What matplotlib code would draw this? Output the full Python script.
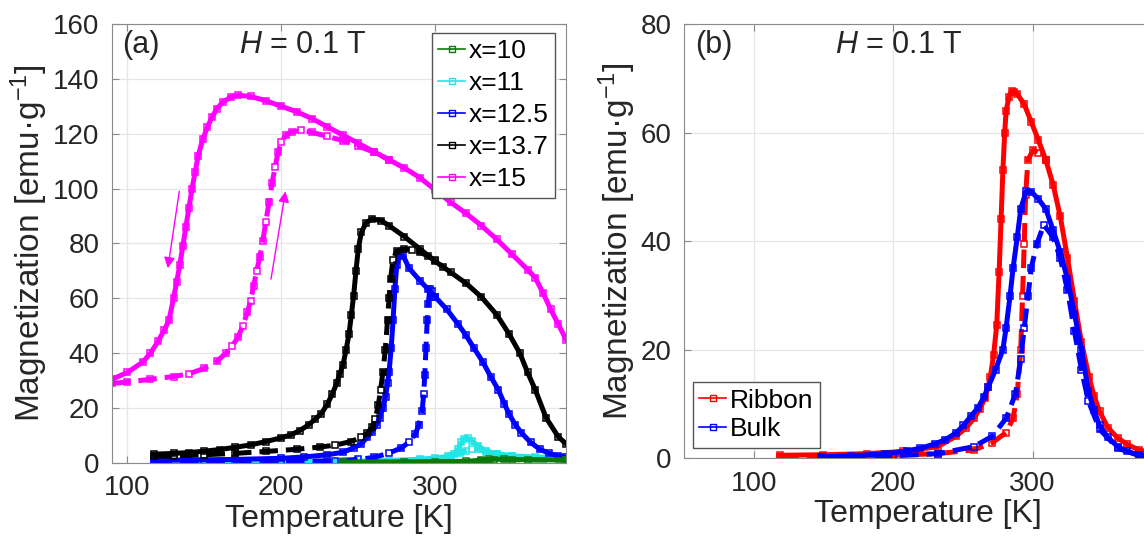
import numpy as np
import matplotlib.pyplot as plt
from matplotlib.lines import Line2D

plt.rcParams['font.family'] = ['Liberation Sans', 'DejaVu Sans']
plt.rcParams['mathtext.fontset'] = 'custom'
plt.rcParams['mathtext.rm'] = 'Liberation Sans'
plt.rcParams['mathtext.it'] = 'Liberation Sans:italic'

# ---------------- panel (a) ----------------
# x=15  (cooling / heating)
t15_c = [90, 100, 110, 115, 120, 124, 127, 130, 132, 134, 136, 138, 140, 142, 144, 146, 149,
         152, 155, 158, 162, 167, 172, 180, 190, 200, 210, 220, 230, 240, 250, 260, 270,
         280, 290, 300, 310, 320, 330, 340, 350, 360, 365, 370, 375, 380, 385]
m15_c = [30.5, 33, 36.8, 40, 44.4, 48.5, 52, 60, 66, 72, 79, 86, 93, 100, 106, 112, 118,
         122.5, 126, 129, 131.5, 133.3, 134, 133.6, 132, 130, 128, 125.5, 122.5, 119.5, 116.5,
         113.5, 110.5, 107.5, 104, 99.5, 95, 91, 86.5, 81.5, 76, 70.5, 67.5, 62, 56, 50.5, 45]
t15_h = [90, 100, 115, 130, 140, 150, 158, 164, 168, 172, 175, 178, 180, 182, 184, 186, 188,
         190, 192, 194, 196, 198, 200, 203, 207, 213, 220, 230, 240, 250, 260, 270]
m15_h = [29, 29.5, 30.5, 31.5, 32.5, 34.5, 37, 40, 42.5, 46, 50, 55, 59, 64.5, 70, 75, 81,
         88, 95, 102, 108, 113.5, 117, 119.5, 120.7, 121.2, 120.5, 119, 117.5, 115.5, 113.3, 110.5]

# x=13.7
t137_c = [117, 130, 140, 150, 160, 170, 180, 190, 200, 206, 212, 218, 222, 226, 230, 233, 236,
          238, 240, 242, 244, 245.5, 247, 248.5, 250, 252, 255, 259, 265, 270, 280, 290, 300,
          310, 320, 330, 340, 348, 355, 360, 365, 372, 380, 385]
m137_c = [3.2, 3.5, 3.8, 4.3, 4.9, 5.7, 6.6, 7.8, 9.2, 10.2, 11.8, 14, 16, 18, 21.5, 25, 29,
          32.5, 35.6, 41, 47, 54, 61, 70, 78, 84, 87.5, 89, 88.3, 86.5, 82.5, 78, 73.5,
          69.5, 65.5, 60.5, 54, 47, 40, 33, 26.7, 16.5, 9.5, 7]
t137_h = [117, 130, 150, 170, 190, 210, 225, 235, 245, 252, 256, 259, 261, 263, 264.5, 266,
          267.5, 269, 270, 271, 272.5, 275, 280, 285, 290, 295, 300, 305]
m137_h = [2.4, 2.6, 3, 3.5, 4.2, 5, 5.8, 6.5, 7.8, 9.3, 11, 13, 16, 21, 26.7, 33,
          41, 52, 60, 67, 74, 77.3, 78, 77.7, 76.8, 75.5, 73.8, 71.5]

# x=12.5
t125_c = [117, 140, 170, 200, 215, 230, 240, 247, 252, 256, 259, 262, 264, 266, 267.7, 269,
          270, 271.4, 272.6, 273.8, 275, 277, 279, 283, 290, 295, 300, 307.5, 315, 320, 325,
          331, 336, 341, 345, 348, 352, 356, 362, 368, 374, 380, 385]
m125_c = [1.0, 1.1, 1.3, 1.7, 2.2, 3, 3.9, 5.5, 7, 9.5, 11.4, 14, 16.5, 20, 24, 29,
          33, 42, 52, 63.5, 72, 75.5, 75.8, 71, 66.5, 63.5, 60.5, 56, 50.5, 46.5, 42,
          36.8, 31.5, 26.7, 21.5, 17.8, 14, 11, 7.5, 5, 3.5, 2.6, 2]
t125_h = [117, 150, 200, 235, 250, 260, 270, 278, 283, 287, 289.5, 291.5, 292.5, 293.2, 294,
          294.8, 295.5, 296.5, 298, 300]
m125_h = [0.4, 0.5, 0.6, 0.8, 1.3, 2, 3.6, 5.5, 7.6, 10.5, 14, 19, 25, 32, 42,
          52, 58, 63.5, 62.5, 60.5]

# x=11
t11_c = [120, 180, 240, 270, 290, 300, 308, 312, 315, 317, 319, 321, 324, 328, 333, 340, 350,
         365, 385]
m11_c = [0.3, 0.4, 0.6, 0.9, 1.4, 1.8, 2.4, 3.2, 5, 7.5, 8.9, 9, 8, 6.2, 4.5, 3.3, 2.6, 2.2, 2]
t11_h = [120, 200, 260, 290, 300, 310, 316, 320, 324, 328, 333, 340, 350]
m11_h = [0.2, 0.3, 0.5, 1, 1.5, 2.5, 3.5, 4.5, 5.2, 5, 4, 3.2, 2.6]

# x=10
t10_c = [240, 280, 320, 330, 335, 345, 360, 385]
m10_c = [0.3, 0.4, 0.6, 1.0, 1.4, 1.3, 1.2, 1.1]
t10_h = [240, 300, 330, 338, 350, 385]
m10_h = [0.2, 0.3, 0.6, 1.2, 1.2, 1.0]

labels_a = ['x=10', 'x=11', 'x=12.5', 'x=13.7', 'x=15']
colors_a = ['#0b7a0b', '#22e6e6', '#0000ff', '#000000', '#ff00ff']

# ---------------- panel (b) ----------------
tr_c = [119, 150, 181, 207, 232, 245, 252, 258, 262, 265.8, 268, 269.7, 272, 274.3, 276, 277.4,
        278.7, 280, 281, 283, 285, 287, 289, 294, 299, 304, 309.5, 314.7, 319.8, 325, 330,
        335, 340.4, 344, 348, 354, 361, 368, 376, 385]
mr_c = [0.5, 0.6, 0.8, 1.2, 2.1, 4, 5.5, 7.3, 9, 11, 13, 15, 18.9, 24.6, 34.3, 44,
        53, 60, 63.9, 66.5, 67.6, 67.5, 67.1, 65.2, 62, 58.7, 54.9, 50.4, 44.6, 36.9, 29,
        21.4, 15, 11.5, 8.6, 5.6, 3.7, 2.5, 1.5, 1.0]
tr_h = [119, 150, 200, 232, 258, 271, 281, 286, 289, 291.5, 292.8, 294, 295, 296.7, 300.5,
        304, 309.5]
mr_h = [0.2, 0.3, 0.5, 0.8, 1.5, 2.8, 4.7, 7.3, 11.8, 20, 29.8, 39.4, 48.5, 55, 56.8,
        56.2, 54.9]

tb_c = [148, 170, 194, 210, 219.5, 230, 237.5, 245, 250.4, 256, 260.7, 265, 268, 273.5, 278.7,
        281, 283.8, 286, 289, 291.5, 295.4, 299, 304, 309.5, 314.7, 319.8, 325, 330, 335,
        340, 344, 348, 354, 361, 368, 376, 385]
mb_c = [0.2, 0.4, 0.8, 1.3, 1.8, 2.6, 3.4, 4.6, 6, 7.8, 9.2, 11.2, 13, 16.3, 20,
        24, 29.8, 35, 40.7, 45.9, 49.2, 49.1, 47.8, 45.9, 42, 38, 33, 26.6, 20,
        12.4, 8.8, 6, 3.8, 2.1, 1.2, 0.5, 0.3]
tb_h = [148, 200, 232, 258, 271, 281, 287.7, 291.5, 294, 296.7, 299, 303, 308, 314.7, 319.8,
        325, 330, 335, 340, 348, 361, 376, 385]
mb_h = [0.1, 0.4, 0.8, 2.1, 4, 7.3, 11.8, 18.2, 24, 29.8, 35, 39.4, 43, 40.7, 36.9,
        31, 23.4, 16.3, 10.5, 5.3, 1.8, 0.5, 0.3]


def branch(ax, t, m, c, ls='-'):
    ax.plot(t, m, ls=ls, color=c, lw=3.6, marker='s', ms=5, mfc='none', mew=1.1)


def style(ax):
    ax.grid(True, color='#e6e6e6', lw=0.9)
    ax.set_axisbelow(True)
    for s in ax.spines.values():
        s.set_color('#8a8a8a')
    ax.tick_params(direction='in', length=5, width=0.8, color='#8a8a8a',
                   labelsize=20, labelcolor='#262626', top=True, right=True, pad=9)


fig = plt.figure(figsize=(11.44, 5.47), dpi=100)

ax1 = fig.add_axes([0.0979, 0.1536, 0.3969, 0.8026])
series_a = [(t10_c, m10_c, t10_h, m10_h), (t11_c, m11_c, t11_h, m11_h),
            (t125_c, m125_c, t125_h, m125_h), (t137_c, m137_c, t137_h, m137_h),
            (t15_c, m15_c, t15_h, m15_h)]
for i in [1, 2, 3, 4, 0]:
    tc, mc, th, mh = series_a[i]
    branch(ax1, tc, mc, colors_a[i], '-')
    branch(ax1, th, mh, colors_a[i], '--')
ax1.annotate('', xy=(126, 70), xytext=(134, 100),
             arrowprops=dict(arrowstyle='-|>', color='#ff00ff', lw=1.0, mutation_scale=16))
ax1.annotate('', xy=(203, 100), xytext=(193, 66),
             arrowprops=dict(arrowstyle='-|>', color='#ff00ff', lw=1.0, mutation_scale=16))
ax1.set_xlim(90, 385)
ax1.set_ylim(0, 160)
ax1.set_xticks([100, 200, 300])
ax1.set_yticks(np.arange(0, 161, 20))
style(ax1)
ax1.set_xlabel('Temperature [K]', fontsize=23, color='#262626', labelpad=2)
ax1.set_ylabel('Magnetization [emu·g$^{-1}$]', fontsize=24, color='#262626', labelpad=2)
ax1.text(0.022, 0.952, '(a)', transform=ax1.transAxes, fontsize=22, va='center', color='#262626')
ax1.text(0.42, 0.952, '$H$ = 0.1 T', transform=ax1.transAxes, fontsize=22, va='center',
         ha='center', color='#262626')
h_a = [Line2D([], [], color=c, lw=1.2, marker='s', ms=4, mfc='none', mew=1.0) for c in colors_a]
ax1.legend(h_a, labels_a, loc='upper right', bbox_to_anchor=(0.976, 0.98), fontsize=19,
           handlelength=1.0, handletextpad=0.15, labelspacing=0.3, borderpad=0.25,
           borderaxespad=0, fancybox=False, edgecolor='#555555', framealpha=1)

ax2 = fig.add_axes([0.5979, 0.1627, 0.4266, 0.7934])
branch(ax2, tr_c, mr_c, '#ff0000', '-')
branch(ax2, tr_h, mr_h, '#ff0000', '--')
branch(ax2, tb_c, mb_c, '#0000ff', '-')
branch(ax2, tb_h, mb_h, '#0000ff', '--')
ax2.set_xlim(50, 400)
ax2.set_ylim(0, 80)
ax2.set_xticks([100, 200, 300])
ax2.set_yticks([0, 20, 40, 60, 80])
style(ax2)
ax2.set_xlabel('Temperature [K]', fontsize=23, color='#262626', labelpad=2)
ax2.set_ylabel('Magnetization [emu·g$^{-1}$]', fontsize=24, color='#262626', labelpad=2)
ax2.text(0.022, 0.952, '(b)', transform=ax2.transAxes, fontsize=22, va='center', color='#262626')
ax2.text(0.44, 0.952, '$H$ = 0.1 T', transform=ax2.transAxes, fontsize=22, va='center',
         ha='center', color='#262626')
h_b = [Line2D([], [], color=c, lw=1.2, marker='s', ms=4, mfc='none', mew=1.0)
       for c in ['#ff0000', '#0000ff']]
ax2.legend(h_b, ['Ribbon', 'Bulk'], loc='lower left', bbox_to_anchor=(0.018, 0.023), fontsize=19,
           handlelength=1.0, handletextpad=0.15, labelspacing=0.18, borderpad=0.25,
           borderaxespad=0, fancybox=False, edgecolor='#555555', framealpha=1)

fig.savefig('out.png', dpi=100)
